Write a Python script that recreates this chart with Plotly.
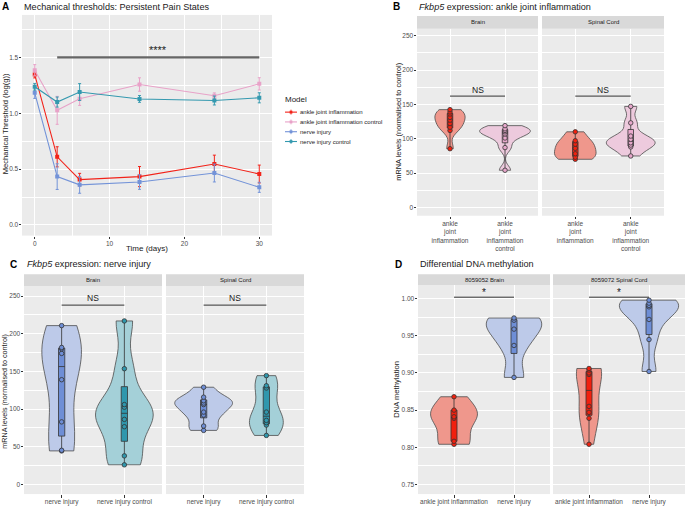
import numpy as np
import plotly.graph_objects as go

W, H = 685, 506
FONT = "Liberation Sans, Arial, sans-serif"

# ---------------- Panel A data ----------------
days = [0, 3, 6, 14, 24, 30]
models = ["ankle joint inflammation", "ankle joint inflammation control",
          "nerve injury", "nerve injury control"]
aji_mean = [1.346, 0.610, 0.406, 0.433, 0.545, 0.456]
aji_err = [0.03, 0.090, 0.056, 0.090, 0.080, 0.080]
ajic_mean = [1.385, 1.026, 1.130, 1.257, 1.157, 1.263]
ajic_err = [0.050, 0.125, 0.060, 0.060, 0.025, 0.055]
ni_mean = [1.183, 0.433, 0.359, 0.384, 0.465, 0.337]
ni_err = [0.050, 0.115, 0.075, 0.065, 0.080, 0.045]
nic_mean = [1.237, 1.100, 1.190, 1.128, 1.114, 1.138]
nic_err = [0.030, 0.045, 0.075, 0.030, 0.040, 0.045]

# ---------------- Panel B data (Fkbp5, ankle joint inflammation) ----------------
b_cats = ["ankle joint inflammation", "ankle joint inflammation control"]
b_ticktext = ["ankle<br>joint<br>inflammation", "ankle<br>joint<br>inflammation<br>control"]
b_brain_aji = [85.4, 112, 116.7, 122, 127, 131, 136, 139, 142.3]
b_brain_ajic = [54, 87, 101, 107, 110, 112, 114.4, 119]
b_spinal_aji = [70, 73, 78, 86, 92, 97, 110]
b_spinal_ajic = [74.8, 88, 90.7, 94, 99, 103.8, 123, 147]

# ---------------- Panel C data (Fkbp5, nerve injury) ----------------
c_cats = ["nerve injury", "nerve injury control"]
c_brain_ni = [44.5, 45.3, 83, 139, 173.9, 180, 181.8, 210.8]
c_brain_nic = [26, 37.9, 76.6, 86.3, 102.5, 106, 153.6, 217]
c_spinal_ni = [71.7, 77.5, 92, 96, 106, 108, 111, 115.8, 129]
c_spinal_nic = [65, 78.8, 82, 85, 96, 128, 131, 144.4]

# ---------------- Panel D data (DNA methylation) ----------------
d_cats = ["ankle joint inflammation", "nerve injury"]
d_brain_aji = [0.804, 0.808, 0.839, 0.841, 0.850, 0.868]
d_brain_ni = [0.894, 0.937, 0.959, 0.971, 0.974]
d_spinal_aji = [0.804, 0.839, 0.847, 0.855, 0.898, 0.900, 0.904, 0.906]
d_spinal_ni = [0.902, 0.945, 0.972, 0.989, 0.991, 0.994, 0.998]

# ---------------- styles ----------------
line_col = {"aji": "#F2231A", "ajic": "#E8A2C8", "ni": "#7393D8", "nic": "#3499AF"}
box_col = {"aji": "#F2200E", "ajic": "#E8A8CC", "ni": "#6E8ED6", "nic": "#2F97AD"}
vio_col = {"aji": "#EF978C", "ajic": "#EDCADD", "ni": "#BDCAE9", "nic": "#A4D0D8"}
model_keys = ["aji", "ajic", "ni", "nic"]


def fx(px):
    return px / W


def fy(py):
    return 1 - py / H


fig = go.Figure()

# ---------------- Panel A traces ----------------
for name, key, mean, err in [(models[0], "aji", aji_mean, aji_err),
                             (models[1], "ajic", ajic_mean, ajic_err),
                             (models[2], "ni", ni_mean, ni_err),
                             (models[3], "nic", nic_mean, nic_err)]:
    fig.add_trace(go.Scatter(
        x=days, y=mean, name=name, mode="lines+markers",
        line=dict(color=line_col[key], width=1.1),
        marker=dict(symbol="square", size=4, color=line_col[key]),
        error_y=dict(type="data", array=err, color=line_col[key], thickness=1, width=1.5),
        xaxis="x", yaxis="y", showlegend=False))


def bw_nrd0(v):
    v = np.asarray(v, dtype=float)
    sd = v.std(ddof=1)
    iqr = np.subtract(*np.percentile(v, [75, 25]))
    lo = min(sd, iqr / 1.34) if iqr > 0 else sd
    return 0.9 * lo * len(v) ** (-0.2)


def add_group(xa, ya, cat, vals, key, vwidth):
    xs = [cat] * len(vals)
    fig.add_trace(go.Violin(
        x=xs, y=vals, xaxis=xa, yaxis=ya, spanmode="hard", width=vwidth,
        scalemode="width", bandwidth=bw_nrd0(vals), points=False,
        fillcolor=vio_col[key], line=dict(color="#4D4D4D", width=0.8),
        box=dict(visible=False), meanline=dict(visible=False),
        showlegend=False, hoverinfo="skip"))
    fig.add_trace(go.Box(
        x=xs, y=vals, xaxis=xa, yaxis=ya, width=0.1, boxpoints=False,
        fillcolor=box_col[key], line=dict(color="#333333", width=0.8),
        whiskerwidth=0, quartilemethod="linear", showlegend=False, hoverinfo="skip"))
    fig.add_trace(go.Scatter(
        x=xs, y=vals, xaxis=xa, yaxis=ya, mode="markers",
        marker=dict(size=4.5, color=box_col[key], line=dict(color="#333333", width=0.8)),
        showlegend=False, hoverinfo="skip"))


# Panel B
add_group("x2", "y2", b_cats[0], b_brain_aji, "aji", 0.55)
add_group("x2", "y2", b_cats[1], b_brain_ajic, "ajic", 0.92)
add_group("x3", "y3", b_cats[0], b_spinal_aji, "aji", 0.75)
add_group("x3", "y3", b_cats[1], b_spinal_ajic, "ajic", 0.88)
# Panel C
add_group("x4", "y4", c_cats[0], c_brain_ni, "ni", 0.63)
add_group("x4", "y4", c_cats[1], c_brain_nic, "nic", 0.92)
add_group("x5", "y5", c_cats[0], c_spinal_ni, "ni", 0.92)
add_group("x5", "y5", c_cats[1], c_spinal_nic, "nic", 0.54)
# Panel D
add_group("x6", "y6", d_cats[0], d_brain_aji, "aji", 0.78)
add_group("x6", "y6", d_cats[1], d_brain_ni, "ni", 0.92)
add_group("x7", "y7", d_cats[0], d_spinal_aji, "aji", 0.42)
add_group("x7", "y7", d_cats[1], d_spinal_ni, "ni", 0.98)

TICKFONT = dict(size=6.5, color="#4D4D4D", family=FONT)


def yax(px0, px1, rng, dtick, mdtick, labels, anchor, fmt=None):
    d = dict(domain=[fy(px1), fy(px0)], range=rng, tick0=0, dtick=dtick, anchor=anchor,
             showgrid=True, gridcolor="white", gridwidth=0.9,
             minor=dict(tick0=0, dtick=mdtick, showgrid=True, gridcolor="white", gridwidth=0.4),
             zeroline=False, showline=False, showticklabels=labels,
             ticks="outside" if labels else "", ticklen=2.5, tickcolor="#333333", tickwidth=0.8,
             tickfont=TICKFONT, ticklabelstandoff=-1)
    if fmt:
        d["tickformat"] = fmt
    return d


def xcat(px0, px1, cats, anchor, ticktext=None):
    d = dict(domain=[fx(px0), fx(px1)], type="category", categoryorder="array",
             categoryarray=cats, range=[-0.6, 1.6], anchor=anchor,
             showgrid=True, gridcolor="white", gridwidth=0.9, zeroline=False,
             ticks="outside", ticklen=2.5, tickcolor="#333333", tickwidth=0.8,
             tickfont=TICKFONT, ticklabelstandoff=-1)
    if ticktext:
        d["tickmode"] = "array"
        d["tickvals"] = cats
        d["ticktext"] = ticktext
    return d


layout = dict(
    width=W, height=H, autosize=False,
    margin=dict(l=0, r=0, t=0, b=0),
    paper_bgcolor="white", plot_bgcolor="#EBEBEB",
    font=dict(family=FONT, color="#1A1A1A"),
    boxmode="overlay", violinmode="overlay", showlegend=False,
    xaxis=dict(domain=[fx(22), fx(272)], range=[-1.7, 31.7], anchor="y",
               tick0=0, dtick=10, showgrid=True, gridcolor="white", gridwidth=0.9,
               minor=dict(tick0=0, dtick=5, showgrid=True, gridcolor="white", gridwidth=0.4),
               zeroline=False, ticks="outside", ticklen=2.5, tickcolor="#333333",
               tickwidth=0.8, tickfont=TICKFONT, ticklabelstandoff=-1),
    yaxis=yax(15, 237, [-0.095, 1.88], 0.5, 0.25, True, "x", ".1f"),
    xaxis2=xcat(417, 538, b_cats, "y2", b_ticktext),
    xaxis3=xcat(542, 664, b_cats, "y3", b_ticktext),
    yaxis2=yax(29, 217, [-12.2, 260], 50, 25, True, "x2"),
    yaxis3=yax(29, 217, [-12.2, 260], 50, 25, False, "x3"),
    xaxis4=xcat(24, 162, c_cats, "y4"),
    xaxis5=xcat(166, 304, c_cats, "y5"),
    yaxis4=yax(288, 497, [-12.8, 263], 50, 25, True, "x4"),
    yaxis5=yax(288, 497, [-12.8, 263], 50, 25, False, "x5"),
    xaxis6=xcat(418, 550, d_cats, "y6"),
    xaxis7=xcat(553, 685, d_cats, "y7"),
    yaxis6=yax(287, 497, [0.737, 1.018], 0.05, 0.025, True, "x6", ".2f"),
    yaxis7=yax(287, 497, [0.737, 1.018], 0.05, 0.025, False, "x7", ".2f"),
)
fig.update_layout(**layout)

shapes = []
ann = []

# manual legend for panel A
ann.append(dict(text="Model", xref="paper", yref="paper", x=fx(283), y=fy(100),
                showarrow=False, xanchor="left", yanchor="middle",
                font=dict(size=8, color="#1A1A1A")))
for i, (name, key) in enumerate(zip(models, model_keys)):
    yy = 112.8 + i * 9.85
    shapes.append(dict(type="line", xref="paper", yref="paper", x0=fx(285), x1=fx(297),
                       y0=fy(yy), y1=fy(yy), line=dict(color=line_col[key], width=1.1)))
    shapes.append(dict(type="line", xref="paper", yref="paper", x0=fx(291), x1=fx(291),
                       y0=fy(yy - 2.5), y1=fy(yy + 2.5), line=dict(color=line_col[key], width=0.8)))
    shapes.append(dict(type="rect", xref="paper", yref="paper", x0=fx(289.6), x1=fx(292.4),
                       y0=fy(yy + 1.4), y1=fy(yy - 1.4), fillcolor=line_col[key], line=dict(width=0)))
    ann.append(dict(text=name, xref="paper", yref="paper", x=fx(298), y=fy(yy),
                    showarrow=False, xanchor="left", yanchor="middle",
                    font=dict(size=6, color="#1A1A1A")))

# strips
for (x0, x1, y0, y1, label) in [(417, 538, 16, 29, "Brain"), (542, 664, 16, 29, "Spinal Cord"),
                                (24, 162, 276, 288, "Brain"), (166, 304, 276, 288, "Spinal Cord"),
                                (418, 550, 276, 287, "8059052 Brain"),
                                (553, 685, 276, 287, "8059072 Spinal Cord")]:
    shapes.append(dict(type="rect", xref="paper", yref="paper", x0=fx(x0), x1=fx(x1),
                       y0=fy(y1), y1=fy(y0), fillcolor="#D9D9D9", line=dict(width=0), layer="below"))
    ann.append(dict(text=label, xref="paper", yref="paper", x=fx((x0 + x1) / 2), y=fy((y0 + y1) / 2),
                    showarrow=False, font=dict(size=6, color="#1A1A1A"), xanchor="center", yanchor="middle"))

# significance bars
shapes.append(dict(type="line", xref="x", yref="y", x0=3, x1=30, y0=1.5, y1=1.5,
                   line=dict(color="#666666", width=2.2)))
ann.append(dict(text="****", xref="x", yref="y", x=16.5, y=1.565, showarrow=False,
                font=dict(size=11, color="#1A1A1A"), xanchor="center", yanchor="middle"))
for xa, ya, yv, label, ty in [("x2", "y2", 162, "NS", 171), ("x3", "y3", 162, "NS", 171),
                              ("x4", "y4", 238, "NS", 248), ("x5", "y5", 238, "NS", 248),
                              ("x6", "y6", 1.002, "*", 1.0085), ("x7", "y7", 1.002, "*", 1.0085)]:
    shapes.append(dict(type="line", xref=xa, yref=ya, x0=0, x1=1, y0=yv, y1=yv,
                       line=dict(color="#333333", width=1)))
    ann.append(dict(text=label, xref=xa, yref=ya, x=0.5, y=ty, showarrow=False,
                    font=dict(size=8.5 if label == "NS" else 10, color="#1A1A1A"),
                    xanchor="center", yanchor="middle"))

# panel titles and letters
for letter, lx, tx, yy, title in [("A", 0, 22, 7, "Mechanical thresholds: Persistent Pain States"),
                                  ("B", 391, 417, 7, "<i>Fkbp5</i> expression: ankle joint inflammation"),
                                  ("C", 8, 25, 266, "<i>Fkbp5</i> expression: nerve injury"),
                                  ("D", 393, 418, 266, "Differential DNA methylation")]:
    ann.append(dict(text="<b>%s</b>" % letter, xref="paper", yref="paper", x=fx(lx), y=fy(yy),
                    showarrow=False, xanchor="left", yanchor="middle", font=dict(size=10, color="black")))
    ann.append(dict(text=title, xref="paper", yref="paper", x=fx(tx), y=fy(yy),
                    showarrow=False, xanchor="left", yanchor="middle", font=dict(size=9.1, color="#1A1A1A")))

# axis titles
ann.append(dict(text="Time (days)", xref="paper", yref="paper", x=fx(147), y=fy(249.5),
                showarrow=False, xanchor="center", yanchor="middle", font=dict(size=8, color="#1A1A1A")))
for x, y, t, fs in [(5, 125, "Mechanical Threshold (log(g))", 7.6),
                    (398.5, 122, "mRNA levels (normalised to control)", 7.4),
                    (5, 394, "mRNA levels (normalised to control)", 7.2),
                    (397, 392, "DNA methylation", 7.6)]:
    ann.append(dict(text=t, xref="paper", yref="paper", x=fx(x), y=fy(y), textangle=-90,
                    xanchor="center", yanchor="middle",
                    showarrow=False, font=dict(size=fs, color="#1A1A1A")))

fig.update_layout(shapes=shapes, annotations=ann)
fig.write_html("out.html", config={"displayModeBar": False},
               post_script="document.body.style.margin='0px';document.body.style.overflow='hidden';")
